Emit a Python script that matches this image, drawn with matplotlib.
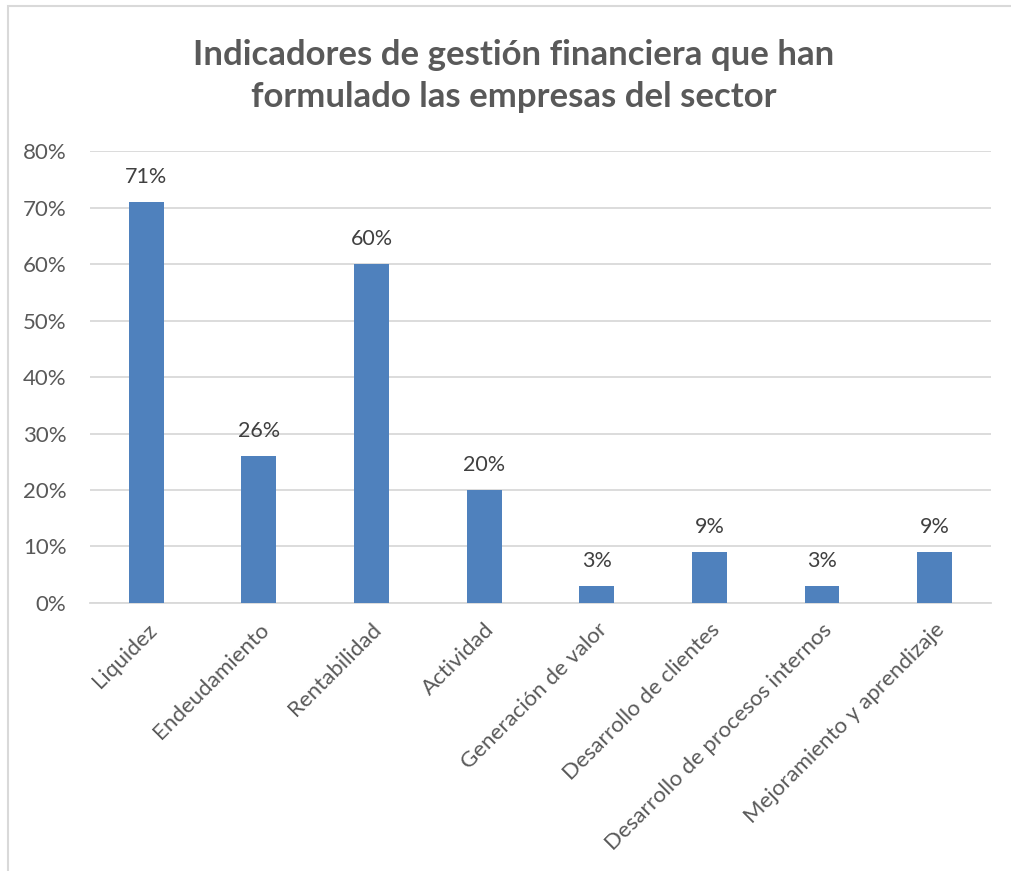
import matplotlib.pyplot as plt
from matplotlib.patches import Rectangle
from matplotlib.ticker import FuncFormatter

# Indicadores y porcentaje de empresas
categorias = ["Liquidez", "Endeudamiento", "Rentabilidad", "Actividad",
              "Generación de valor", "Desarrollo de clientes",
              "Desarrollo de procesos internos", "Mejoramiento y aprendizaje"]
valores = [0.71, 0.26, 0.60, 0.20, 0.03, 0.09, 0.03, 0.09]
ticks_y = [0, 0.1, 0.2, 0.3, 0.4, 0.5, 0.6, 0.7, 0.8]

plt.rcParams['font.family'] = ['Lato', 'DejaVu Sans']
gris = '#595959'

fig = plt.figure(figsize=(10.12, 8.71), dpi=100)
ax = fig.add_axes([0.0889, 0.3077, 0.8903, 0.5189])

# borde del area del grafico
fig.patches.append(Rectangle((8 / 1012, -0.1), 1.2, 1 - 6 / 871 + 0.1,
                             transform=fig.transFigure, fill=False,
                             edgecolor='#d9d9d9', linewidth=1.5))

x = range(len(categorias))
barras = ax.bar(x, valores, width=0.31, color='#4f81bd', zorder=3)

for xi, v in zip(x, valores):
    ax.annotate(f"{round(v * 100)}%", (xi, v), xytext=(0, 18),
                textcoords='offset points', ha='center', va='center',
                fontsize=15.5, color='#404040')

ax.set_xlim(-0.5, len(categorias) - 0.5)
ax.set_ylim(0, 0.8)
ax.set_yticks(ticks_y)
ax.yaxis.set_major_formatter(FuncFormatter(lambda v, p: f"{round(v * 100)}%"))
ax.grid(axis='y', color='#d9d9d9', linewidth=1.3, zorder=0)
ax.set_xticks(list(x))
ax.set_xticklabels(categorias, rotation=45, ha='right', rotation_mode='anchor')
ax.tick_params(axis='both', length=0, labelsize=16, labelcolor=gris)
ax.tick_params(axis='y', pad=17)
ax.tick_params(axis='x', pad=12)
for s in ['top', 'right', 'left']:
    ax.spines[s].set_visible(False)
ax.spines['bottom'].set_color('#d9d9d9')
ax.spines['bottom'].set_linewidth(1.3)

fig.text(0.508, 0.913, "Indicadores de gestión financiera que han\nformulado las empresas del sector",
         ha='center', va='center', fontsize=25, fontweight='bold', color=gris,
         linespacing=1.4)

fig.savefig("out.png", dpi=100)
